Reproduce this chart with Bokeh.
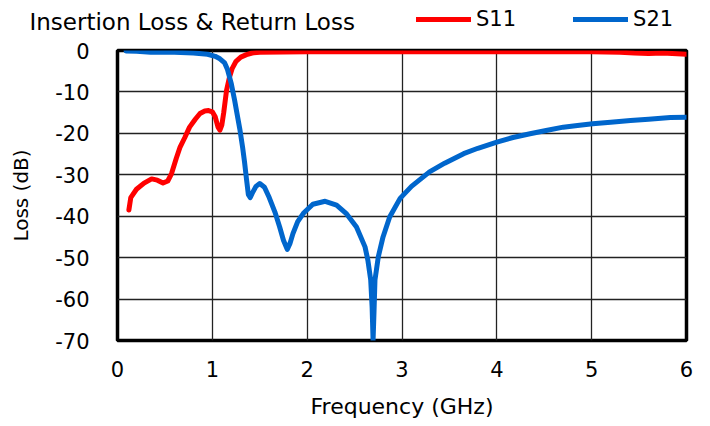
from bokeh.plotting import figure
from bokeh.layouts import column
from bokeh.models import Range1d, FixedTicker, Label, Legend, LegendItem, CustomJSTickFormatter
from bokeh.embed import file_html
from bokeh.resources import INLINE

# ---- data ----
s11_freq = [0.12, 0.14, 0.20, 0.28, 0.36, 0.42, 0.48, 0.53, 0.57, 0.62, 0.66, 0.71,
            0.76, 0.82, 0.87, 0.92, 0.96, 1.00, 1.03, 1.06, 1.08, 1.10, 1.12, 1.15,
            1.18, 1.21, 1.25, 1.30, 1.36, 1.42, 1.50, 2.00, 3.00, 4.00, 5.00, 5.30,
            5.45, 5.60, 5.75, 5.90, 6.00]
s11_db = [-38.5, -35.5, -33.5, -32.0, -31.0, -31.3, -32.0, -31.5, -29.7, -26.0, -23.3, -21.0,
          -18.5, -16.6, -15.2, -14.6, -14.5, -14.8, -16.0, -18.5, -19.2, -18.0, -15.0, -9.6,
          -6.5, -4.3, -2.6, -1.6, -1.0, -0.6, -0.4, -0.3, -0.3, -0.3, -0.3, -0.4,
          -0.6, -0.7, -0.6, -0.8, -0.9]

s21_freq = [0.09, 0.20, 0.35, 0.60, 0.80, 0.95, 1.03, 1.08, 1.13, 1.16, 1.20, 1.235,
            1.26, 1.29, 1.32, 1.34, 1.36, 1.38, 1.40, 1.42, 1.46, 1.50, 1.55, 1.60,
            1.66, 1.71, 1.75, 1.79, 1.82, 1.85, 1.90, 1.96, 2.06, 2.19, 2.31, 2.41,
            2.52, 2.61, 2.64, 2.67, 2.685, 2.695, 2.705, 2.715, 2.75, 2.80, 2.87, 2.98,
            3.10, 3.29, 3.45, 3.65, 3.80, 4.00, 4.17, 4.35, 4.52, 4.70, 4.85, 5.01,
            5.20, 5.41, 5.60, 5.83, 6.00]
s21_db = [-0.1, -0.2, -0.4, -0.4, -0.6, -0.9, -1.4, -2.0, -3.0, -4.6, -8.0, -12.0,
          -15.2, -19.0, -23.5, -27.0, -31.0, -34.8, -35.5, -34.5, -32.8, -32.1, -33.0, -35.5,
          -39.0, -42.6, -45.8, -48.0, -46.5, -44.2, -41.3, -39.3, -37.1, -36.4, -37.3, -39.3,
          -42.6, -47.4, -50.6, -55.4, -62.0, -70.0, -63.0, -55.4, -49.8, -45.0, -40.2, -35.7,
          -32.8, -29.3, -27.2, -24.9, -23.6, -22.1, -21.0, -20.1, -19.3, -18.5, -18.1, -17.7,
          -17.3, -16.9, -16.6, -16.2, -16.1]

x_ticks = [0, 1, 2, 3, 4, 5, 6]
y_ticks = [-70, -60, -50, -40, -30, -20, -10, 0]

title_text = "Insertion Loss & Return Loss"
series_names = ["S11", "S21"]
x_label = "Frequency (GHz)"
y_label = "Loss (dB)"

FONT = "DejaVu Sans"
RED = "#FF0000"
BLUE = "#0066CC"
W, HEAD_H, MAIN_H = 710, 36, 390
NAN = float("nan")

# ---- header strip: title + legend ----
head = figure(width=W, height=HEAD_H, output_backend="svg", toolbar_location=None,
              x_range=Range1d(0, W), y_range=Range1d(HEAD_H, 0),
              x_axis_type=None, y_axis_type=None, min_border=0,
              background_fill_color="white", border_fill_color="white")
try:
    head.frame_align = False
except Exception:
    pass
head.outline_line_color = None
head.grid.visible = False
h11 = head.line(x=[NAN], y=[NAN], line_color=RED, line_width=5, line_cap="round")
h21 = head.line(x=[NAN], y=[NAN], line_color=BLUE, line_width=5, line_cap="round")
head.add_layout(Label(x=29, y=21, text=title_text, text_font=FONT, text_font_size="23px",
                      text_color="black", text_baseline="alphabetic", text_align="left"))
legend = Legend(items=[LegendItem(label=series_names[0], renderers=[h11]),
                       LegendItem(label=series_names[1], renderers=[h21])],
                orientation="horizontal", location=(416, 5),
                glyph_width=55, glyph_height=20, label_standoff=5, spacing=57,
                padding=0, margin=0, border_line_color=None,
                background_fill_alpha=0, label_text_font=FONT,
                label_text_font_size="21px", label_text_color="black")
head.add_layout(legend)

# ---- main chart ----
p = figure(width=W, height=MAIN_H, output_backend="svg", toolbar_location=None,
           x_range=Range1d(0, 6), y_range=Range1d(-70, 0),
           min_border_left=117, min_border_right=24, min_border_top=14,
           min_border_bottom=86, background_fill_color="white",
           border_fill_color="white")
try:
    p.frame_align = False
except Exception:
    pass

p.outline_line_color = "black"
p.outline_line_width = 3.5

fmt = CustomJSTickFormatter(code="return tick.toFixed(0);")
for ax in (p.xaxis[0], p.yaxis[0]):
    ax.axis_line_color = None
    ax.major_tick_in = 0
    ax.major_tick_out = 0
    ax.minor_tick_in = 0
    ax.minor_tick_out = 0
    ax.formatter = fmt
    ax.major_label_text_font = FONT
    ax.major_label_text_color = "black"
    ax.axis_label_text_font = FONT
    ax.axis_label_text_font_style = "normal"
    ax.axis_label_text_color = "black"

p.xaxis.ticker = FixedTicker(ticks=x_ticks)
p.yaxis.ticker = FixedTicker(ticks=y_ticks)
p.xaxis.major_label_text_font_size = "21px"
p.yaxis.major_label_text_font_size = "21px"
p.xaxis.major_label_standoff = 20
p.yaxis.major_label_standoff = 28
p.xaxis.axis_label = x_label
p.yaxis.axis_label = y_label
p.xaxis.axis_label_text_font_size = "22px"
p.yaxis.axis_label_text_font_size = "20px"
p.xaxis.axis_label_standoff = 14
p.yaxis.axis_label_standoff = 19

p.xgrid.ticker = FixedTicker(ticks=x_ticks)
p.ygrid.ticker = FixedTicker(ticks=y_ticks)
p.grid.grid_line_color = "#222222"
p.grid.grid_line_width = 1.3

p.line(s11_freq, s11_db, line_color=RED, line_width=5, line_join="round", line_cap="round")
p.line(s21_freq, s21_db, line_color=BLUE, line_width=5, line_join="round", line_cap="round")

layout = column(head, p, spacing=0)
open("out.html", "w").write(file_html(layout, INLINE))
